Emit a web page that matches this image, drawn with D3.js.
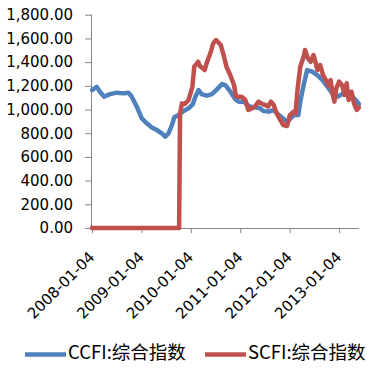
<!DOCTYPE html>
<html><head><meta charset="utf-8">
<script src="https://cdn.jsdelivr.net/npm/d3@7"></script>
<style>
html,body{margin:0;padding:0;background:#fff;}
svg{display:block;}
</style></head>
<body>
<svg id="c" width="376" height="373"></svg>
<script>
const ccfiDates = ["2008-01-04","2008-02-08","2008-03-03","2008-04-02","2008-05-16","2008-07-05","2008-08-23","2008-09-29","2008-10-24","2008-11-30","2009-01-06","2009-02-12","2009-03-21","2009-04-27","2009-06-03","2009-06-28","2009-07-23","2009-08-17","2009-09-03","2009-10-05","2009-11-11","2009-12-18","2010-01-19","2010-02-06","2010-03-02","2010-03-27","2010-05-03","2010-06-09","2010-07-16","2010-08-22","2010-09-16","2010-10-23","2010-11-29","2010-12-24","2011-01-30","2011-03-08","2011-04-14","2011-05-21","2011-06-27","2011-08-03","2011-09-09","2011-10-16","2011-11-22","2011-12-17","2012-01-11","2012-02-04","2012-03-08","2012-03-25","2012-04-19","2012-05-13","2012-06-19","2012-07-26","2012-09-02","2012-10-09","2012-11-15","2012-12-22","2013-01-28","2013-03-06","2013-04-12","2013-05-07","2013-05-31"];
const ccfiValues = [1164,1190,1150,1108,1130,1142,1136,1142,1108,1024,925,883,849,827,799,771,799,869,934,953,987,1010,1046,1108,1164,1128,1117,1130,1170,1215,1206,1150,1086,1066,1066,1029,1018,1015,987,982,996,953,920,897,925,953,953,1080,1220,1333,1319,1291,1249,1192,1136,1108,1130,1150,1108,1080,1046];

const scfiDates = ["2008-01-04","2009-10-09","2009-10-16","2009-10-30","2009-11-20","2009-12-18","2010-01-15","2010-01-29","2010-02-26","2010-03-12","2010-04-16","2010-04-30","2010-05-28","2010-06-18","2010-07-09","2010-08-13","2010-09-03","2010-09-24","2010-10-22","2010-11-19","2010-12-03","2010-12-24","2011-01-14","2011-02-11","2011-03-04","2011-04-01","2011-04-22","2011-05-20","2011-06-17","2011-07-08","2011-07-29","2011-08-19","2011-09-09","2011-09-30","2011-10-28","2011-11-18","2011-12-16","2012-01-06","2012-02-03","2012-02-17","2012-03-02","2012-03-23","2012-04-20","2012-04-27","2012-05-18","2012-06-08","2012-06-29","2012-07-13","2012-07-27","2012-08-17","2012-09-07","2012-09-28","2012-10-19","2012-11-02","2012-11-16","2012-11-30","2012-12-14","2013-01-04","2013-01-25","2013-02-15","2013-03-01","2013-03-15","2013-04-05","2013-04-24","2013-05-14","2013-05-31"];
const scfiValues = [0,0,967,1052,1046,1080,1192,1361,1403,1367,1333,1389,1474,1558,1586,1544,1460,1361,1291,1207,1108,1108,1108,1080,996,1010,1024,1066,1046,1038,1024,1066,1038,967,911,869,861,953,982,967,1164,1361,1460,1502,1432,1403,1460,1403,1333,1375,1291,1249,1199,1249,1136,1066,1178,1235,1207,1122,1221,1080,1150,1052,996,1018];

const yTicks = [0,200,400,600,800,1000,1200,1400,1600,1800];
const xTicks = ["2008-01-04","2009-01-04","2010-01-04","2011-01-04","2012-01-04","2013-01-04"];
const seriesNames = ["CCFI:综合指数","SCFI:综合指数"];
const seriesColors = ["#4F81BD","#C0504D"];

const parse = d3.timeParse("%Y-%m-%d");
const svg = d3.select("#c");
const pLeft = 92, pRight = 359, pTop = 14.7, pBottom = 228;

const x = d3.scaleTime().domain([parse("2008-01-04"), parse("2013-05-31")]).range([pLeft, pRight]);
const y = d3.scaleLinear().domain([0,1800]).range([pBottom, pTop]);

const axisColor = "#868686";
const fontFam = "'DejaVu Sans', sans-serif";

// y axis
const ya = svg.append("g").attr("transform",`translate(${pLeft},0)`)
  .call(d3.axisLeft(y).tickValues(yTicks).tickFormat(d3.format(",.2f")).tickSize(7).tickPadding(12));
ya.select(".domain").attr("stroke",axisColor).attr("d",`M-0.5,${pBottom}V${pTop}`);
ya.selectAll(".tick line").attr("stroke",axisColor);
ya.selectAll(".tick text").attr("fill","#000").style("font-family",fontFam).style("font-size","15px");

// x axis
const xa = svg.append("g").attr("transform",`translate(0,${pBottom})`)
  .call(d3.axisBottom(x).tickValues(xTicks.map(parse)).tickFormat(d3.timeFormat("%Y-%m-%d")).tickSize(5).tickSizeOuter(0));
xa.select(".domain").attr("stroke",axisColor).attr("d",`M${pLeft},0.5H${pRight}`);
xa.selectAll(".tick line").attr("stroke",axisColor);
xa.selectAll(".tick text").attr("fill","#000").style("font-family",fontFam).style("font-size","15px")
  .attr("text-anchor","end").attr("dy","0")
  .attr("transform","translate(3,30) rotate(-45)").attr("x",0).attr("y",0);

const line = d3.line().x(d=>x(d.date)).y(d=>y(d.value));
const ccfi = ccfiDates.map((d,i)=>({date:parse(d),value:ccfiValues[i]}));
const scfi = scfiDates.map((d,i)=>({date:parse(d),value:scfiValues[i]}));

svg.append("path").datum(ccfi).attr("d",line).attr("fill","none").attr("stroke",seriesColors[0])
  .attr("stroke-width",4.5).attr("stroke-linejoin","round").attr("stroke-linecap","round");
svg.append("path").datum(scfi).attr("d",line).attr("fill","none").attr("stroke",seriesColors[1])
  .attr("stroke-width",4.5).attr("stroke-linejoin","round").attr("stroke-linecap","round");

// legend
const lg = svg.append("g").attr("transform","translate(0,353)");
const lx = [25, 205];
seriesNames.forEach((n,i)=>{
  lg.append("line").attr("x1",lx[i]).attr("x2",lx[i]+41).attr("y1",1.5).attr("y2",1.5)
    .attr("stroke",seriesColors[i]).attr("stroke-width",4.5).attr("stroke-linecap","butt");
  lg.append("text").attr("x",lx[i]+43).attr("y",0).attr("dy","0.35em").text(n)
    .style("font-family","'Noto Sans CJK SC', sans-serif").style("font-size","18.5px").attr("fill","#000");
});
</script>
</body></html>
